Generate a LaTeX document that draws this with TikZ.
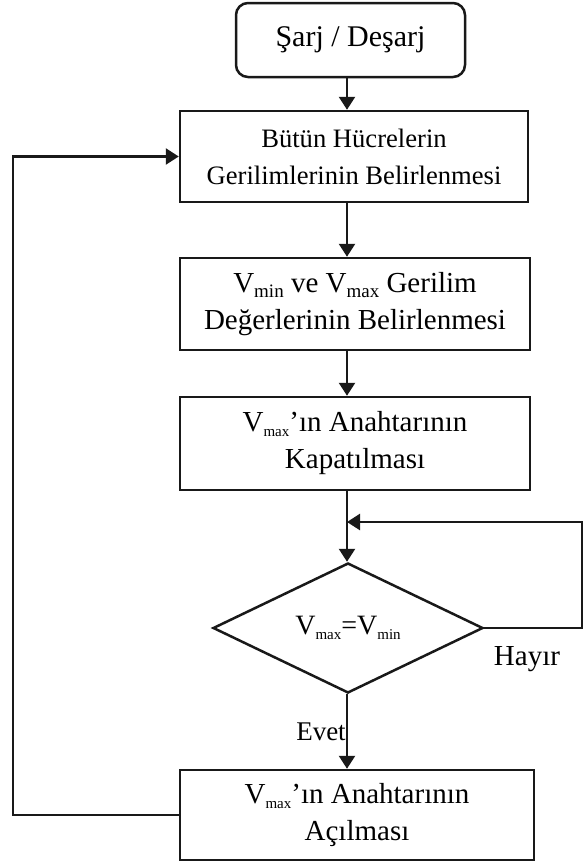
\documentclass[tikz,border=0pt]{standalone}
\usepackage{fontspec}
\setmainfont{Liberation Serif}
\usetikzlibrary{arrows.meta,shapes.geometric}
% small lowered subscript used for V_min / V_max
\newcommand\lowsub[2][15]{\raisebox{-0.35ex}{\fontsize{#1}{#1}\selectfont #2}}
\newcommand\fsz[1]{\fontsize{#1}{37}\selectfont}
\begin{document}
\begin{tikzpicture}[x=1pt,y=-1pt,
  every node/.style={font=\fsz{26}},
  flowline/.style={line width=2.5pt,draw=black!90},
  arr/.style={flowline,-{Triangle[length=13pt,width=16pt]}},
  procbox/.style={draw=black!90,line width=2.5pt,rectangle,align=center,inner sep=0pt},
  startbox/.style={procbox,rounded corners=12pt},
  decision/.style={draw=black!90,line width=2.5pt,diamond,inner sep=0pt,
    minimum width=270pt,minimum height=130pt,aspect=2.08}]
\useasboundingbox (0,0) rectangle (584,865);
\fill[white] (0,0) rectangle (584,865);

% trunk and loop reference points
\coordinate (tx) at (347,0);
\coordinate (m) at (347,522);
\coordinate (rc) at (582,522);
\coordinate (lx) at (13,0);

% steps
\node[startbox,minimum width=229pt,minimum height=74pt,font=\fsz{30}] (start) at (350.5,40) {Şarj / Deşarj};
\node[procbox,minimum width=348pt,minimum height=91pt,font=\fsz{26.6}] (b2) at (354,156.5)
  {Bütün Hücrelerin\\Gerilimlerinin Belirlenmesi};
\node[procbox,minimum width=350pt,minimum height=92pt,font=\fsz{29}] (b3) at (355,304)
  {V\lowsub[19]{min} ve V\lowsub[19]{max} Gerilim\\Değerlerinin Belirlenmesi};
\node[procbox,minimum width=350pt,minimum height=93pt,font=\fsz{29}] (b4) at (355,443.5)
  {V\lowsub{max}’ın Anahtarının\\Kapatılması};
\node[decision,font=\fsz{28}] (dia) at (348,628) {V\lowsub{max}=V\lowsub{min}};
\node[procbox,minimum width=354pt,minimum height=90pt,font=\fsz{29}] (b5) at (357,815)
  {V\lowsub{max}’ın Anahtarının\\Açılması};

% branch labels
\node[anchor=base,inner sep=0pt,font=\fsz{29}] (hayir) at (527,665) {Hayır};
\node[anchor=base,inner sep=0pt,font=\fsz{27}] (evet) at (321,740) {Evet};

% connectors
\draw[arr] (start.south -| tx) -- (b2.north -| tx);
\draw[arr] (b2.south -| tx) -- (b3.north -| tx);
\draw[arr] (b3.south -| tx) -- (b4.north -| tx);
\draw[flowline] (b4.south -| tx) -- (m);
\draw[arr] (m) -- (dia.north -| tx);
\draw[arr] (dia.east) -- (dia.east -| rc) -- (rc) -- (m);
\draw[arr] (dia.south -| tx) -- (b5.north -| tx);
\draw[arr] (b5.west) -- (b5.west -| lx) -- (b2.west -| lx) -- (b2.west);
\end{tikzpicture}
\end{document}
